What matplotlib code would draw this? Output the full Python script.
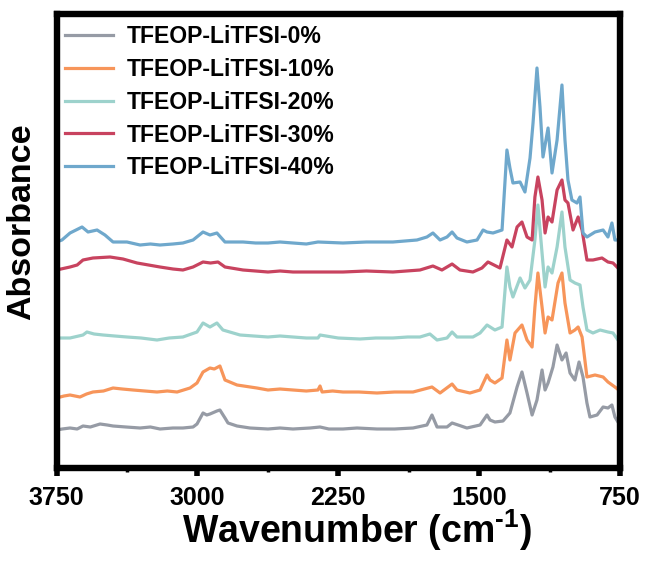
import matplotlib
matplotlib.use("Agg")
import matplotlib.pyplot as plt

plt.rcParams['font.family'] = ['Liberation Sans', 'DejaVu Sans']
plt.rcParams['font.weight'] = 'bold'
plt.rcParams['mathtext.fontset'] = 'custom'
plt.rcParams['mathtext.rm'] = 'Liberation Sans:bold'
plt.rcParams['mathtext.bf'] = 'Liberation Sans:bold'
plt.rcParams['mathtext.default'] = 'bf'

labels = ["TFEOP-LiTFSI-0%", "TFEOP-LiTFSI-10%", "TFEOP-LiTFSI-20%",
          "TFEOP-LiTFSI-30%", "TFEOP-LiTFSI-40%"]
colors = ["#969ba5", "#f7955a", "#9dd2cc", "#c8435f", "#6fa8cc"]

wn_0 = [3750, 3720, 3678, 3640, 3609, 3570, 3518, 3480, 3449, 3380, 3305, 3250, 3199, 3130,
        3077, 3023, 3002, 2970, 2950, 2933, 2896, 2880, 2853, 2837, 2789, 2720, 2624, 2560,
        2491, 2400, 2347, 2300, 2225, 2150, 2044, 1950, 1852, 1778, 1751, 1724, 1671, 1644,
        1612, 1565, 1495, 1458, 1442, 1416, 1373, 1336, 1298, 1272, 1245, 1218, 1192, 1165,
        1149, 1133, 1107, 1085, 1059, 1037, 1016, 990, 968, 947, 926, 910, 872, 840, 814,
        793, 777, 761, 750]
ab_0 = [0.37, 0.38, 0.39, 0.38, 0.41, 0.40, 0.43, 0.42, 0.41, 0.40, 0.39, 0.40, 0.38, 0.39,
        0.39, 0.40, 0.43, 0.54, 0.52, 0.53, 0.56, 0.57, 0.49, 0.44, 0.41, 0.39, 0.38, 0.39,
        0.38, 0.39, 0.40, 0.38, 0.38, 0.39, 0.38, 0.38, 0.39, 0.42, 0.52, 0.40, 0.40, 0.44,
        0.42, 0.39, 0.42, 0.52, 0.47, 0.45, 0.46, 0.54, 0.80, 0.95, 0.74, 0.52, 0.67, 0.97,
        0.77, 0.84, 1.00, 1.22, 1.07, 1.14, 0.94, 0.87, 1.05, 0.90, 0.64, 0.50, 0.52, 0.60,
        0.59, 0.62, 0.50, 0.45, 0.43]

wn_10 = [3750, 3710, 3678, 3625, 3590, 3556, 3500, 3449, 3400, 3343, 3280, 3215, 3160, 3108,
         3039, 3002, 2970, 2933, 2910, 2880, 2853, 2789, 2683, 2624, 2560, 2491, 2420, 2358,
         2347, 2336, 2280, 2225, 2140, 2044, 1950, 1852, 1751, 1708, 1644, 1618, 1549, 1495,
         1458, 1442, 1416, 1378, 1352, 1336, 1309, 1272, 1245, 1218, 1203, 1187, 1165, 1149,
         1133, 1112, 1080, 1059, 1043, 1016, 990, 973, 952, 926, 883, 840, 814, 777, 750]
ab_10 = [0.69, 0.71, 0.72, 0.70, 0.73, 0.75, 0.76, 0.79, 0.78, 0.77, 0.76, 0.75, 0.76, 0.75,
         0.79, 0.84, 0.95, 0.99, 0.98, 1.01, 0.87, 0.82, 0.79, 0.77, 0.78, 0.77, 0.76, 0.77,
         0.81, 0.75, 0.76, 0.75, 0.75, 0.74, 0.75, 0.75, 0.80, 0.74, 0.83, 0.77, 0.74, 0.77,
         0.92, 0.87, 0.84, 0.89, 1.27, 1.07, 1.34, 1.42, 1.27, 1.20, 1.60, 1.94, 1.60, 1.34,
         1.50, 1.47, 1.84, 1.94, 1.64, 1.34, 1.37, 1.40, 1.30, 0.90, 0.92, 0.90, 0.85, 0.80,
         0.76]

wn_20 = [3750, 3678, 3609, 3588, 3550, 3502, 3440, 3375, 3300, 3215, 3150, 3077, 3002, 2970,
         2933, 2896, 2864, 2773, 2700, 2624, 2560, 2491, 2420, 2358, 2347, 2250, 2134, 2050,
         1959, 1880, 1815, 1762, 1724, 1671, 1644, 1618, 1533, 1495, 1458, 1416, 1378, 1352,
         1336, 1320, 1282, 1256, 1229, 1203, 1187, 1165, 1149, 1133, 1112, 1085, 1059, 1043,
         1016, 990, 963, 947, 926, 894, 856, 814, 787, 761, 750]
ab_20 = [1.29, 1.29, 1.32, 1.35, 1.33, 1.32, 1.31, 1.30, 1.29, 1.27, 1.29, 1.30, 1.35, 1.44,
         1.40, 1.44, 1.37, 1.32, 1.31, 1.30, 1.31, 1.30, 1.29, 1.29, 1.32, 1.29, 1.28, 1.29,
         1.29, 1.30, 1.30, 1.33, 1.27, 1.29, 1.35, 1.30, 1.30, 1.34, 1.42, 1.37, 1.40, 2.00,
         1.80, 1.70, 1.89, 1.79, 1.87, 2.27, 2.62, 2.14, 1.80, 2.00, 1.94, 2.20, 2.55, 2.20,
         1.87, 1.84, 1.82, 1.60, 1.37, 1.34, 1.37, 1.35, 1.34, 1.27, 1.26]

wn_30 = [3750, 3678, 3640, 3609, 3556, 3465, 3396, 3321, 3260, 3199, 3130, 3077, 3023, 2970,
         2930, 2890, 2853, 2757, 2690, 2624, 2560, 2491, 2360, 2225, 2100, 1959, 1815, 1746,
         1698, 1644, 1602, 1533, 1485, 1453, 1442, 1389, 1352, 1325, 1298, 1272, 1245, 1218,
         1203, 1187, 1165, 1149, 1133, 1112, 1085, 1059, 1043, 1027, 1000, 973, 952, 926, 894,
         846, 814, 787, 761, 750]
ab_30 = [1.97, 2.00, 2.02, 2.07, 2.09, 2.10, 2.08, 2.04, 2.02, 2.00, 1.98, 1.97, 2.00, 2.05,
         2.04, 2.05, 2.00, 1.97, 1.96, 1.95, 1.96, 1.95, 1.95, 1.95, 1.96, 1.95, 1.97, 2.01,
         1.97, 2.03, 1.97, 1.95, 1.99, 2.05, 2.04, 1.99, 2.27, 2.20, 2.40, 2.45, 2.30, 2.27,
         2.70, 2.90, 2.67, 2.34, 2.50, 2.45, 2.77, 2.87, 2.67, 2.64, 2.37, 2.50, 2.37, 2.07,
         2.07, 2.09, 2.05, 2.04, 1.99, 1.98]

wn_40 = [3750, 3721, 3678, 3614, 3582, 3534, 3492, 3449, 3375, 3305, 3250, 3199, 3130, 3077,
         3023, 2970, 2933, 2896, 2853, 2757, 2690, 2624, 2560, 2491, 2420, 2358, 2225, 2100,
         1959, 1831, 1778, 1746, 1708, 1671, 1644, 1618, 1565, 1511, 1479, 1458, 1426, 1378,
         1352, 1336, 1320, 1282, 1256, 1229, 1213, 1192, 1176, 1160, 1133, 1112, 1085, 1059,
         1043, 1027, 1006, 979, 963, 947, 926, 883, 840, 814, 793, 777, 761, 750]
ab_40 = [2.25, 2.27, 2.34, 2.40, 2.35, 2.37, 2.32, 2.25, 2.25, 2.22, 2.23, 2.22, 2.23, 2.24,
         2.27, 2.35, 2.32, 2.34, 2.25, 2.25, 2.24, 2.24, 2.25, 2.24, 2.23, 2.25, 2.24, 2.25,
         2.25, 2.27, 2.30, 2.34, 2.27, 2.30, 2.35, 2.29, 2.25, 2.27, 2.37, 2.35, 2.34, 2.37,
         3.17, 2.99, 2.84, 2.85, 2.75, 3.09, 3.44, 3.99, 3.60, 3.10, 3.39, 2.94, 3.27, 3.82,
         3.27, 2.87, 2.67, 2.64, 2.70, 2.34, 2.30, 2.35, 2.37, 2.30, 2.44, 2.27, 2.27, 2.27]

series = [(wn_0, ab_0), (wn_10, ab_10), (wn_20, ab_20), (wn_30, ab_30), (wn_40, ab_40)]

xticks = [3750, 3000, 2250, 1500, 750]
xminor = [3375, 2625, 1875, 1125]

fig = plt.figure(figsize=(6.48, 5.63), dpi=100)
ax = fig.add_axes([56.5 / 648, 1 - 467.5 / 563, (620 - 56.5) / 648, (467.5 - 14) / 563])

for (wn, ab), c, lab in zip(series, colors, labels):
    ax.plot(wn, ab, color=c, lw=2.3, label=lab, solid_joinstyle='round')

ax.set_xlim(3750, 750)
ax.set_ylim(-0.005, 4.53)
ax.set_xticks(xticks)
ax.set_xticks(xminor, minor=True)
ax.set_xticklabels([str(t) for t in xticks])
ax.set_yticks([])
for s in ax.spines.values():
    s.set_linewidth(4.6)
ax.tick_params(axis='x', which='major', direction='out', length=6, width=4.0,
               labelsize=18, pad=7)
ax.tick_params(axis='x', which='minor', direction='out', length=3, width=2.5)

fig.text(22 / 648, 1 - 222 / 563, "Absorbance", rotation=90, fontsize=24.5,
         fontweight='bold', ha='center', va='center')
fig.text(357 / 648, 1 - 530 / 563, "Wavenumber (cm$^{\u20101}$)", fontsize=27,
         fontweight='bold', ha='center', va='center')

leg = ax.legend(loc='upper left', bbox_to_anchor=(-0.0177, 1.0154), frameon=False,
                fontsize=16.6, handlelength=2.1, handletextpad=0.6, labelspacing=0.42,
                borderaxespad=0.4)
for t in leg.get_texts():
    t.set_fontweight('bold')

fig.savefig("out.png", dpi=100)
